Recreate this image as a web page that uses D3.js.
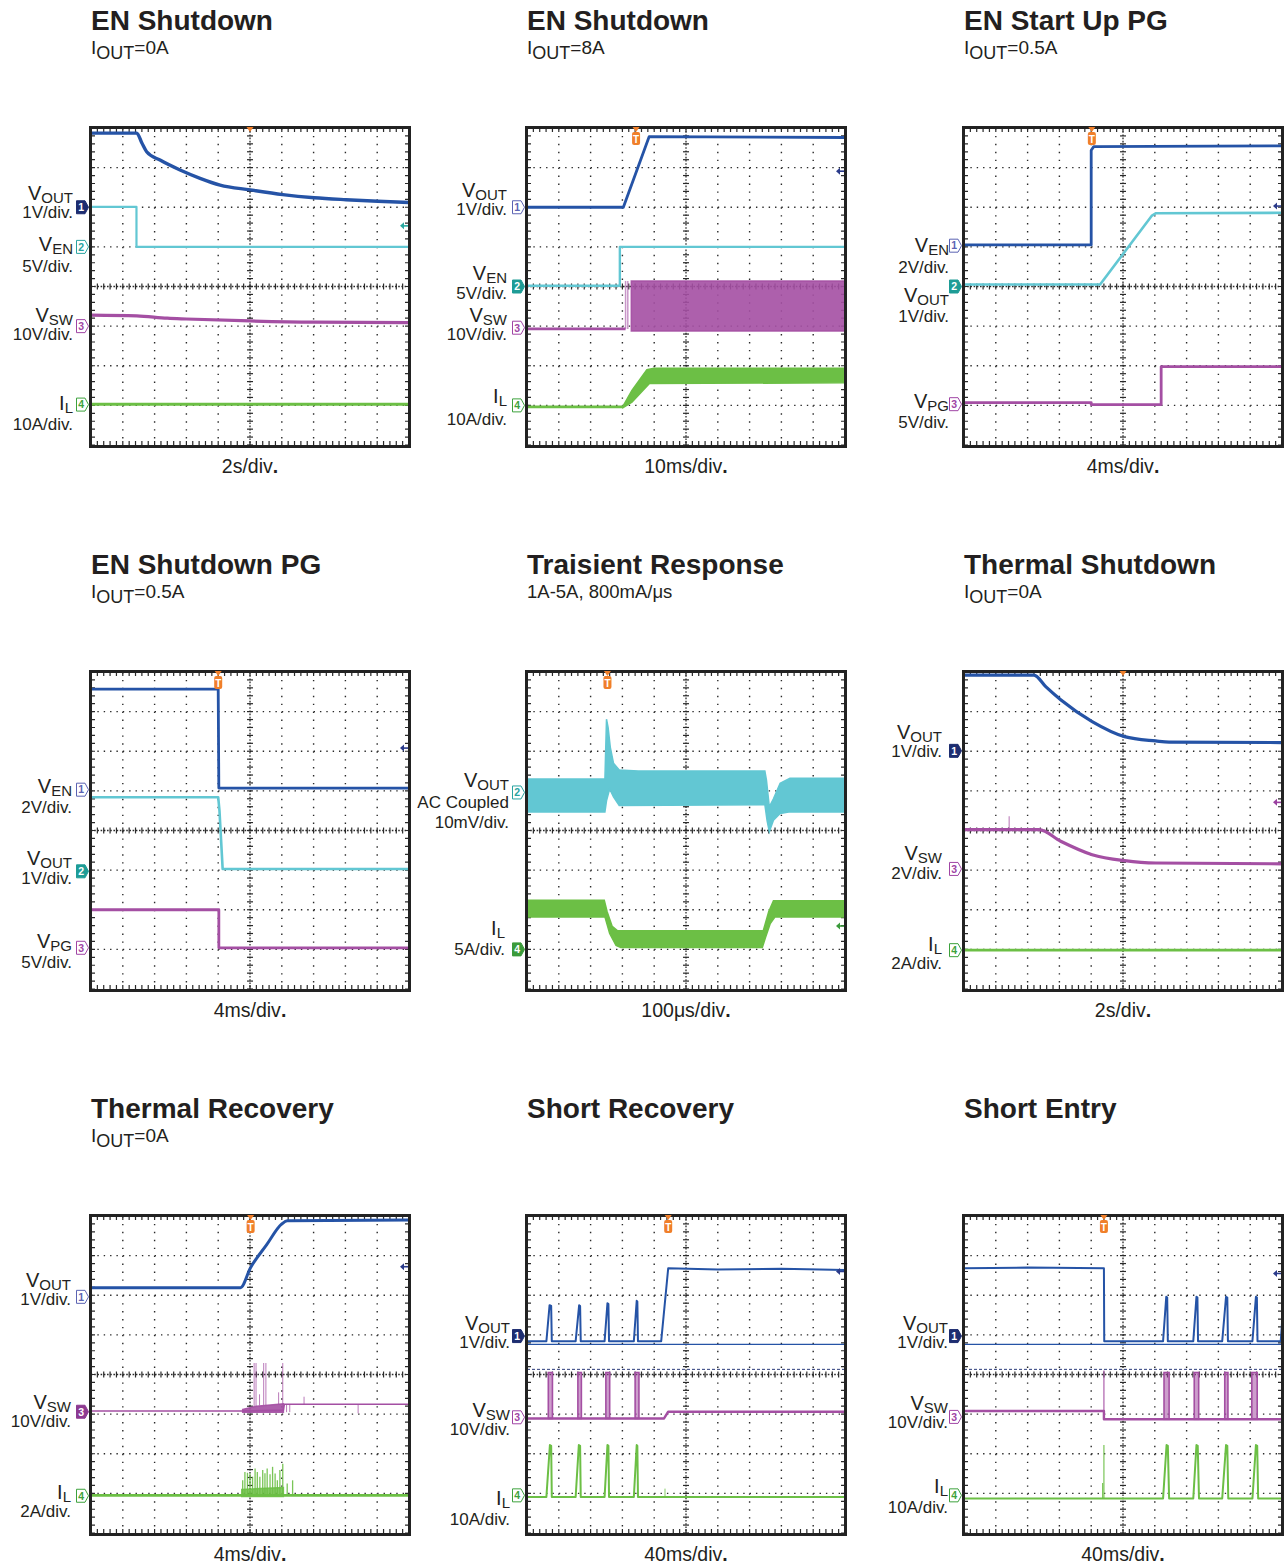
<!DOCTYPE html>
<html lang="en">
<head>
<meta charset="UTF-8">
<script src="https://d3js.org/d3.v7.min.js"></script>
<style>
  body { margin: 0; background: #fff; }
  svg { display: block; font-family: "Liberation Sans", Arial, Helvetica, sans-serif; }
</style>
</head>
<body>
<svg width="1285" height="1564"></svg>
<script>
  // ---- text ----
  const titles = ["EN Shutdown", "EN Shutdown", "EN Start Up PG", "EN Shutdown PG", "Traisient Response",
                  "Thermal Shutdown", "Thermal Recovery", "Short Recovery", "Short Entry"];
  const subtitles = [["I", "OUT", "=0A"], ["I", "OUT", "=8A"], ["I", "OUT", "=0.5A"], ["I", "OUT", "=0.5A"],
                     ["", "", "1A-5A, 800mA/μs"], ["I", "OUT", "=0A"], ["I", "OUT", "=0A"], null, null];
  const timeDiv = ["2s/div.", "10ms/div.", "4ms/div.", "4ms/div.", "100μs/div.", "2s/div.", "4ms/div.", "40ms/div.", "40ms/div."];

  // ---- traces, in screen divisions: x 0..10 left to right, y 0..8 top to bottom ----
  // 1. EN Shutdown, Iout=0A
  const p1Vout = [[0,0.13],[1.44,0.13],[1.6,0.38],[1.75,0.6],[2.17,0.81],[2.8,1.06],[3.43,1.27],[4.06,1.44],[5.0,1.56],[6.03,1.68],[7.02,1.76],[8.02,1.81],[9.02,1.85],[10,1.88]];
  const p1Ven = [[0,1.99],[1.43,1.99],[1.43,3.0],[10,3.0]];
  const p1Vsw = [[0,4.72],[1.44,4.74],[2.4,4.8],[3.0,4.82],[5.0,4.87],[7,4.9],[10,4.91]];
  const p1Il = [[0,6.97],[10,6.97]];
  // 2. EN Shutdown, Iout=8A
  const p2Vout = [[0,2.0],[3.03,2.0],[3.84,0.22],[10,0.24]];
  const p2Ven = [[0,3.98],[2.92,3.98],[2.92,3.0],[10,3.0]];
  const p2Vsw = [[0,5.07],[3.1,5.07]];
  const p2VswTop = [[3.28,3.86],[10,3.86]];
  const p2VswBot = [[3.28,5.12],[10,5.12]];
  const p2VswSpikes = [[3.1,5.07,3.86],[3.17,5.07,3.86]];
  const p2Il = [[0,7.04],[3.02,7.04]];
  const p2IlTop = [[3.02,7.02],[3.3,6.62],[3.77,6.1],[4.0,6.06],[10,6.06]];
  const p2IlBot = [[3.02,7.06],[3.3,6.92],[3.85,6.45],[10,6.43]];
  // 3. EN Start Up PG
  const p3Ven = [[0,2.95],[4.0,2.95],[4.0,0.56],[4.08,0.47],[10,0.45]];
  const p3Vout = [[0,3.95],[4.28,3.95],[5.9,2.22],[6.04,2.15],[10,2.14]];
  const p3Vpg = [[0,6.93],[4.0,6.93],[4.0,6.98],[6.2,6.98],[6.2,6.02],[10,6.02]];
  // 4. EN Shutdown PG
  const p4Ven = [[0,0.43],[4.0,0.43],[4.02,2.93],[10,2.93]];
  const p4Vout = [[0,3.16],[4.0,3.16],[4.04,3.5],[4.14,4.97],[10,4.97]];
  const p4Vpg = [[0,6.0],[4.02,6.0],[4.02,6.96],[10,6.96]];
  // 5. Transient response (AC coupled Vout, inductor current)
  const p5VoutTop = [[0,2.7],[2.45,2.7],[2.5,1.19],[2.55,1.4],[2.62,1.9],[2.72,2.3],[2.9,2.47],[3.5,2.5],[7.48,2.5],[7.53,2.73],[7.62,3.4],[7.75,3.2],[7.96,2.81],[8.27,2.68],[10,2.68]];
  const p5VoutBot = [[0,3.53],[2.45,3.53],[2.5,3.25],[2.6,2.95],[2.72,3.15],[2.9,3.37],[7.48,3.35],[7.55,3.75],[7.62,4.03],[7.75,3.74],[7.96,3.57],[8.27,3.53],[10,3.53]];
  const p5IlTop = [[0,5.76],[2.43,5.76],[2.52,6.05],[2.68,6.42],[2.85,6.53],[7.43,6.53],[7.6,6.05],[7.75,5.77],[10,5.77]];
  const p5IlBot = [[0,6.18],[2.45,6.18],[2.6,6.6],[2.8,6.9],[2.95,6.95],[7.4,6.95],[7.5,6.7],[7.65,6.35],[7.8,6.18],[10,6.18]];
  // 6. Thermal Shutdown
  const p6Vout = [[0,0.08],[2.2,0.08],[2.57,0.37],[3.04,0.7],[4.03,1.25],[5.05,1.63],[6.03,1.74],[6.45,1.77],[10,1.78]];
  const p6Vsw = [[0,3.98],[2.36,3.98],[3.04,4.27],[4.03,4.61],[5.05,4.76],[6.03,4.82],[10,4.84]];
  const p6VswSpikes = [[1.42,3.98,3.64]];
  const p6Il = [[0,7.02],[10,7.02]];
  // 7. Thermal Recovery
  const p7Vout = [[0,1.81],[4.7,1.81],[5.02,1.3],[5.52,0.73],[6.0,0.2],[6.17,0.12],[10,0.1]];
  const p7Vsw = [[0,4.92],[4.77,4.92],[6.05,4.9],[6.08,4.75],[10,4.75]];
  const p7VswTop = [[4.77,4.88],[5.2,4.8],[6.05,4.74]];
  const p7VswBot = [[4.77,4.95],[6.05,4.95]];
  const p7VswSpikes = [[5.13,4.8,3.71],[5.19,4.8,3.71],[5.43,4.78,3.71],[5.5,4.78,3.71],[6.03,4.75,3.71],[5.3,4.78,4.5],[5.9,4.75,4.45],[6.7,4.75,4.56],[6.15,4.75,4.95],[6.25,4.75,4.95],[8.4,4.75,4.98]];
  const p7Il = [[0,7.05],[10,7.05]];
  const p7IlTop = [[4.74,6.9],[6.05,6.85]];
  const p7IlBot = [[4.74,7.08],[6.05,7.08]];
  const p7IlSpikes = [[4.77,7.05,6.67],[4.84,7.05,6.46],[4.92,7.05,6.48],[5.0,7.05,6.5],[5.08,7.05,6.58],[5.16,7.05,6.37],[5.23,7.05,6.46],[5.31,7.05,6.58],[5.4,7.05,6.41],[5.47,7.05,6.49],[5.54,7.05,6.37],[5.63,7.05,6.52],[5.71,7.05,6.33],[5.79,7.05,6.5],[5.86,7.05,6.67],[5.94,7.05,6.41],[6.03,7.05,6.25],[6.17,7.05,6.75],[6.34,7.05,6.67]];
  // 8. Short Recovery
  const p8Vout = [[0,3.16],[0.61,3.16],[0.71,2.25],[0.76,2.27],[0.78,3.16],[1.53,3.16],[1.64,2.25],[1.67,2.27],[1.69,3.16],[2.44,3.16],[2.53,2.2],[2.56,2.22],[2.58,3.16],[3.36,3.16],[3.45,2.14],[3.47,2.16],[3.49,3.16],[4.22,3.16],[4.44,1.32],[6,1.35],[8,1.33],[10,1.36]];
  const p8Vsw = [[0,5.11],[4.31,5.11],[4.44,4.94],[10,4.94]];
  const p8VswBars = [[0.67,0.8,3.95,5.11],[1.6,1.71,3.95,5.11],[2.48,2.6,3.95,5.11],[3.4,3.52,3.95,5.11]];
  const p8Il = [[0,7.09],[0.61,7.09],[0.72,5.78],[0.76,5.8],[0.78,7.09],[1.53,7.09],[1.63,5.78],[1.67,5.8],[1.69,7.09],[2.44,7.09],[2.53,5.78],[2.56,5.8],[2.58,7.09],[3.36,7.09],[3.45,5.78],[3.47,5.8],[3.49,7.09],[10,7.09]];
  const p8IlSpikes = [[4.34,7.09,6.88]];
  // 9. Short Entry
  const p9Vout = [[0,1.32],[2,1.3],[4.4,1.32],[4.41,3.16],[6.26,3.16],[6.36,2.04],[6.39,2.06],[6.41,3.16],[7.21,3.16],[7.31,2.04],[7.34,2.06],[7.36,3.16],[8.12,3.16],[8.24,2.04],[8.28,2.06],[8.3,3.16],[9.07,3.16],[9.18,2.04],[9.21,2.06],[9.23,3.16],[9.96,3.16],[10,2.7]];
  const p9Vsw = [[0,4.92],[4.4,4.92],[4.4,5.13],[10,5.13]];
  const p9VswSpikes = [[4.4,4.92,3.9]];
  const p9VswBars = [[6.29,6.45,3.95,5.13],[7.24,7.38,3.95,5.13],[8.2,8.3,3.95,5.13],[9.05,9.22,3.95,5.13]];
  const p9Il = [[0,7.13],[6.26,7.13],[6.37,5.78],[6.41,5.8],[6.45,7.13],[7.21,7.13],[7.31,5.78],[7.35,5.8],[7.39,7.13],[8.12,7.13],[8.24,5.78],[8.28,5.8],[8.31,7.13],[9.07,7.13],[9.18,5.78],[9.22,5.8],[9.25,7.13],[10,7.13]];
  const p9IlSpikes = [[4.4,7.13,5.78],[4.36,7.13,6.74]];

  // channel ground markers [channel, y div, selected]
  const markers = [
    [[1,2.0,1],[2,3.0,0],[3,5.0,0],[4,6.98,0]],
    [[1,2.0,0],[2,4.0,1],[3,5.04,0],[4,7.0,0]],
    [[1,2.97,0],[2,4.0,1],[3,6.97,0]],
    [[1,2.97,0],[2,5.03,1],[3,6.96,0]],
    [[2,3.04,0],[4,7.0,1]],
    [[1,1.99,1],[3,4.97,0],[4,7.02,0]],
    [[1,2.04,0],[3,4.94,1],[4,7.06,0]],
    [[1,3.03,1],[3,5.08,0],[4,7.05,0]],
    [[1,3.03,1],[3,5.07,0],[4,7.05,0]]
  ];
  // trigger position (x div), trigger level arrow [channel, y div]
  const trigX = [5.0, 3.43, 4.02, 4.0, 2.53, 5.0, 5.02, 4.44, 4.4];
  const trigLevel = [[2,2.47],[1,1.09],[1,1.97],[1,1.92],[4,6.41],[3,3.29],[1,1.28],[1,1.4],[1,1.45]];

  // ---- layout / style ----
  const colX = [89, 525, 962];
  const rowY = [126, 670, 1214];
  const ink = '#231f20';
  const chColor = {1: '#2553a6', 2: '#62c7d3', 3: '#a44fa3', 4: '#6cbf45'};
  const chDark = {1: '#1d2d70', 2: '#1e9c96', 3: '#8d3a91', 4: '#3b9b3b'};
  const chLine = {1: '#5b63b3', 2: '#2aa3a0', 3: '#a045a5', 4: '#3da23d'};
  const arrowColor = {1: '#2a3a8a', 2: '#2aa8a0', 3: '#9a40a0', 4: '#3a9a3a'};

  // label name, unit lines, baselines (px below the frame top), right edge (px from the frame)
  const panels = [
    { tb: false, labelDx: -16,
      labels: [[['V','OUT'],['1V/div.'],[75,92]], [['V','EN'],['5V/div.'],[125,146]], [['V','SW'],['10V/div.'],[199,214]], [['I','L'],['10A/div.'],[284,304]]],
      lines: [[p1Vout,1,3.4,1],[p1Ven,2,2.2,0],[p1Vsw,3,3.2,1],[p1Il,4,3,0]] },
    { tb: true, labelDx: -18,
      labels: [[['V','OUT'],['1V/div.'],[72,89]], [['V','EN'],['5V/div.'],[154,173]], [['V','SW'],['10V/div.'],[196,214]], [['I','L'],['10A/div.'],[277,299]]],
      bands: [[p2VswTop,p2VswBot,3,0.9],[p2IlTop,p2IlBot,4,1]],
      spikes: [[p2VswSpikes,3,1.5,0.6]],
      lines: [[p2Vout,1,2.8,0],[p2Ven,2,2.4,0],[p2Vsw,3,2.6,0],[p2Il,4,2.8,0]] },
    { tb: true, labelDx: -13,
      labels: [[['V','EN'],['2V/div.'],[126,147]], [['V','OUT'],['1V/div.'],[176,196]], [['V','PG'],['5V/div.'],[282,302]]],
      lines: [[p3Ven,1,2.8,0],[p3Vout,2,2.6,0],[p3Vpg,3,2.8,0]] },
    { tb: true, labelDx: -17,
      labels: [[['V','EN'],['2V/div.'],[123,143]], [['V','OUT'],['1V/div.'],[195,214]], [['V','PG'],['5V/div.'],[278,298]]],
      lines: [[p4Ven,1,2.8,0],[p4Vout,2,2.6,0],[p4Vpg,3,2.8,0]] },
    { tb: true, labelDx: -16,
      labels: [[['V','OUT'],['AC Coupled','10mV/div.'],[117,138,158]], [['I','L'],['5A/div.'],[265,285],-20]],
      bands: [[p5VoutTop,p5VoutBot,2,1],[p5IlTop,p5IlBot,4,1]],
      lines: [] },
    { tb: false, labelDx: -20,
      labels: [[['V','OUT'],['1V/div.'],[72,87]], [['V','SW'],['2V/div.'],[190,209]], [['I','L'],['2A/div.'],[282,299]]],
      spikes: [[p6VswSpikes,3,1,0.8]],
      lines: [[p6Vout,1,3.2,1],[p6Vsw,3,3.2,1],[p6Il,4,2.8,0]] },
    { tb: true, labelDx: -18,
      labels: [[['V','OUT'],['1V/div.'],[75,91]], [['V','SW'],['10V/div.'],[197,213]], [['I','L'],['2A/div.'],[286,303]]],
      bands: [[p7VswTop,p7VswBot,3,0.9],[p7IlTop,p7IlBot,4,0.85]],
      spikes: [[p7VswSpikes,3,1,0.75],[p7IlSpikes,4,1.3,0.9]],
      lines: [[p7Vout,1,3,1],[p7Vsw,3,1.6,0],[p7Il,4,2.6,0]] },
    { tb: true, labelDx: -15, ref: true,
      labels: [[['V','OUT'],['1V/div.'],[116,134]], [['V','SW'],['10V/div.'],[204,221]], [['I','L'],['10A/div.'],[291,311]]],
      bars: [[p8VswBars,3]],
      spikes: [[p8IlSpikes,4,1,0.8]],
      lines: [[p8Vout,1,2,0],[p8Vsw,3,2.4,0],[p8Il,4,2,0]] },
    { tb: true, labelDx: -14, ref: true,
      labels: [[['V','OUT'],['1V/div.'],[116,134]], [['V','SW'],['10V/div.'],[197,214]], [['I','L'],['10A/div.'],[279,299]]],
      bars: [[p9VswBars,3]],
      spikes: [[p9VswSpikes,3,1.2,0.9],[p9IlSpikes,4,1.2,0.9]],
      lines: [[p9Vout,1,2,0],[p9Vsw,3,2.4,0],[p9Il,4,2,0]] }
  ];

  const svg = d3.select('svg');

  function drawGrid(g, x, y) {
    const gx = 0.2, col = '#2a2a2a';
    const stepX = x(gx) - x(0), stepY = y(gx) - y(0);
    // dotted division lines
    [1, 2, 3, 4, 6, 7, 8, 9].forEach(i => {
      g.append('line').attr('x1', x(i)).attr('x2', x(i)).attr('y1', y(0)).attr('y2', y(8))
        .attr('stroke', col).attr('stroke-width', 1.4).attr('stroke-dasharray', `1.4 ${stepY - 1.4}`);
    });
    [1, 2, 3, 5, 6, 7].forEach(j => {
      g.append('line').attr('y1', y(j)).attr('y2', y(j)).attr('x1', x(0)).attr('x2', x(10))
        .attr('stroke', col).attr('stroke-width', 1.4).attr('stroke-dasharray', `1.4 ${stepX - 1.4}`);
    });
    // centre cross, with minor ticks
    g.append('line').attr('x1', x(5)).attr('x2', x(5)).attr('y1', y(0)).attr('y2', y(8))
      .attr('stroke', col).attr('stroke-width', 1.3).attr('stroke-dasharray', '1.6 1.6');
    g.append('line').attr('y1', y(4)).attr('y2', y(4)).attr('x1', x(0)).attr('x2', x(10))
      .attr('stroke', col).attr('stroke-width', 1.3).attr('stroke-dasharray', '1.6 1.6');
    const ty = d3.range(0, 8.001, gx), tx = d3.range(0, 10.001, gx);
    g.selectAll(null).data(ty).join('line')
      .attr('x1', x(5) - 3).attr('x2', x(5) + 3).attr('y1', d => y(d)).attr('y2', d => y(d))
      .attr('stroke', col).attr('stroke-width', 1.2);
    g.selectAll(null).data(tx).join('line')
      .attr('y1', y(4) - 3).attr('y2', y(4) + 3).attr('x1', d => x(d)).attr('x2', d => x(d))
      .attr('stroke', col).attr('stroke-width', 1.2);
    // edge ticks
    g.selectAll(null).data(tx).join('path')
      .attr('d', d => `M${x(d)},${y(0)}v4M${x(d)},${y(8)}v-4`)
      .attr('stroke', col).attr('stroke-width', 1.2);
    g.selectAll(null).data(ty).join('path')
      .attr('d', d => `M${x(0)},${y(d)}h4M${x(10)},${y(d)}h-4`)
      .attr('stroke', col).attr('stroke-width', 1.2);
  }

  panels.forEach((p, i) => {
    const fx = colX[i % 3], fy = rowY[Math.floor(i / 3)];
    const x = d3.scaleLinear().domain([0, 10]).range([fx + 2, fx + 320]);
    const y = d3.scaleLinear().domain([0, 8]).range([fy + 2, fy + 319]);
    const g = svg.append('g');

    // title + condition
    g.append('text').attr('x', fx + 2).attr('y', fy - 96)
      .attr('font-size', 28).attr('font-weight', 'bold').attr('fill', ink).text(titles[i]);
    const s = subtitles[i];
    if (s) {
      const t = g.append('text').attr('x', fx + 2).attr('y', fy - 72.5).attr('fill', ink);
      if (s[0]) {
        t.append('tspan').attr('font-size', 19).text(s[0]);
        t.append('tspan').attr('font-size', 18).attr('dy', 5).text(s[1]);
        t.append('tspan').attr('font-size', 19).attr('dy', -5).text(s[2]);
      } else {
        t.append('tspan').attr('font-size', 18.5).text(s[2]);
      }
    }

    // grid
    drawGrid(g.append('g'), x, y);

    // traces
    const clipId = 'clip' + i;
    g.append('clipPath').attr('id', clipId).append('rect')
      .attr('x', x(0)).attr('y', y(0)).attr('width', x(10) - x(0)).attr('height', y(8) - y(0));
    const tg = g.append('g').attr('clip-path', `url(#${clipId})`);
    const line = d3.line().x(d => x(d[0])).y(d => y(d[1]));
    const smooth = d3.line().x(d => x(d[0])).y(d => y(d[1])).curve(d3.curveMonotoneX);

    if (p.ref) {
      tg.append('line').attr('x1', x(0)).attr('x2', x(10)).attr('y1', y(3.24)).attr('y2', y(3.24))
        .attr('stroke', chColor[1]).attr('stroke-width', 1.2);
      tg.append('line').attr('x1', x(0)).attr('x2', x(10)).attr('y1', y(3.87)).attr('y2', y(3.87))
        .attr('stroke', '#2b3a7a').attr('stroke-width', 1).attr('stroke-dasharray', '3 2');
    }
    (p.bands || []).forEach(([top, bot, ch, op]) => {
      const poly = top.concat(bot.slice().reverse());
      tg.append('path').attr('d', line(poly) + 'Z')
        .attr('fill', chColor[ch]).attr('fill-opacity', op)
        .attr('stroke', chColor[ch]).attr('stroke-width', 1.5).attr('stroke-opacity', op);
    });
    (p.bars || []).forEach(([bars, ch]) => {
      tg.selectAll(null).data(bars).join('rect')
        .attr('x', d => x(d[0])).attr('width', d => x(d[1]) - x(d[0]))
        .attr('y', d => y(d[2])).attr('height', d => y(d[3]) - y(d[2]))
        .attr('fill', chColor[ch]).attr('fill-opacity', 0.55)
        .attr('stroke', chColor[ch]).attr('stroke-width', 1.6);
    });
    p.lines.forEach(([d, ch, w, curved]) => {
      tg.append('path').attr('d', (curved ? smooth : line)(d))
        .attr('fill', 'none').attr('stroke', chColor[ch]).attr('stroke-width', w)
        .attr('stroke-linejoin', 'round');
    });
    (p.spikes || []).forEach(([sp, ch, w, op]) => {
      tg.selectAll(null).data(sp).join('line')
        .attr('x1', d => x(d[0])).attr('x2', d => x(d[0]))
        .attr('y1', d => y(d[1])).attr('y2', d => y(d[2]))
        .attr('stroke', chColor[ch]).attr('stroke-width', w).attr('stroke-opacity', op);
    });

    // frame
    g.append('rect').attr('x', fx + 1.5).attr('y', fy + 1.5).attr('width', 319).attr('height', 319)
      .attr('fill', 'none').attr('stroke', '#222').attr('stroke-width', 3);

    // channel markers
    markers[i].forEach(([ch, yd, sel]) => {
      const my = y(yd), mx = fx - 12.5;
      g.append('path')
        .attr('d', `M${mx},${my - 6.5}h8.5l3.5,6.5l-3.5,6.5h-8.5Z`)
        .attr('fill', sel ? chDark[ch] : '#fff')
        .attr('stroke', sel ? chDark[ch] : chLine[ch]).attr('stroke-width', 1);
      g.append('text').attr('x', mx + 4.6).attr('y', my + 3.8).attr('text-anchor', 'middle')
        .attr('font-size', 10.5).attr('font-weight', 'bold')
        .attr('fill', sel ? '#fff' : chLine[ch]).text(ch);
    });

    // channel labels
    p.labels.forEach(([name, units, ys, dx]) => {
      const xr = fx + (dx !== undefined ? dx : p.labelDx);
      const ny = Math.min(ys[0], ys[1] - 18);
      const t = g.append('text').attr('x', xr).attr('y', fy + ny).attr('text-anchor', 'end').attr('fill', ink);
      t.append('tspan').attr('font-size', 20).text(name[0]);
      t.append('tspan').attr('font-size', 15).attr('dy', 2.5).text(name[1]);
      units.forEach((u, k) => {
        g.append('text').attr('x', xr).attr('y', fy + ys[k + 1]).attr('text-anchor', 'end')
          .attr('font-size', 17).attr('fill', ink).text(u);
      });
    });

    // trigger position
    const tX = x(trigX[i]), top = y(0);
    g.append('path').attr('d', `M${tX - 3.5},${top - 1}h7l-3.5,5Z`).attr('fill', '#f07f2a');
    if (p.tb) {
      g.append('rect').attr('x', tX - 4).attr('y', top + 4).attr('width', 8).attr('height', 13)
        .attr('rx', 2).attr('fill', '#f07f2a');
      g.append('text').attr('x', tX).attr('y', top + 14.5).attr('text-anchor', 'middle')
        .attr('font-size', 10).attr('font-weight', 'bold').attr('fill', '#fff').text('T');
    }

    // trigger level arrow
    const [lc, ly] = trigLevel[i];
    const ax = x(10) - 1, ay = y(ly);
    g.append('path').attr('d', `M${ax - 8},${ay}l4,-3.5v7Z`).attr('fill', arrowColor[lc]);
    g.append('line').attr('x1', ax - 4).attr('x2', ax).attr('y1', ay).attr('y2', ay)
      .attr('stroke', arrowColor[lc]).attr('stroke-width', 1.6);

    // time base
    const tl = timeDiv[i];
    const tt = g.append('text').attr('x', x(5)).attr('y', fy + 346.5).attr('text-anchor', 'middle')
      .attr('font-size', 19.5).attr('fill', ink);
    tt.append('tspan').text(tl.slice(0, -1));
    tt.append('tspan').attr('font-weight', 'bold').text('.');
  });
</script>
</body>
</html>
